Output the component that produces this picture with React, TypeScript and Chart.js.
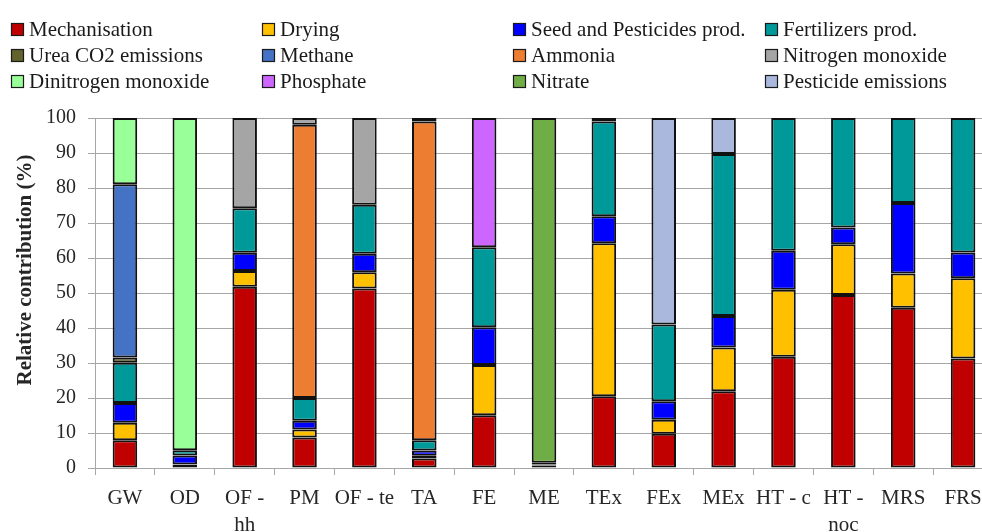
import React, { useEffect, useRef } from "react";
import { Chart, registerables } from "chart.js";

Chart.register(...registerables);

const categories: (string | string[])[] = [
  "GW", "OD", ["OF -", "hh"], "PM", "OF - te", "TA", "FE", "ME", "TEx", "FEx", "MEx", "HT - c", ["HT -", "noc"], "MRS", "FRS",
];

const mechanisation = [7.9, 0.9, 51.8, 8.7, 51.3, 2.7, 15.1, 0.6, 20.5, 9.8, 21.9, 31.8, 49.4, 45.8, 31.3];
const drying = [5.0, 0.1, 4.5, 2.3, 4.6, 0.8, 14.3, 0.1, 43.7, 4.0, 12.5, 19.1, 14.5, 9.8, 22.9];
const seedPesticides = [5.7, 2.6, 5.2, 2.5, 5.3, 1.5, 10.8, 0.3, 7.7, 5.3, 9.0, 11.2, 4.8, 20.1, 7.4];
const fertilizers = [11.5, 1.5, 12.7, 6.5, 14.0, 2.9, 22.9, 0.5, 27.1, 21.9, 46.3, 37.9, 31.3, 24.3, 38.4];
const ureaCO2 = [1.5, null, null, null, null, null, null, null, null, null, null, null, null, null, null];
const methane = [49.5, null, null, null, null, null, null, null, null, null, null, null, null, null, null];
const ammonia = [null, null, null, 78.1, null, 91.1, null, null, null, null, null, null, null, null, null];
const nitrogenMonoxide = [null, null, 25.8, 1.9, 24.8, 1.0, null, null, null, null, null, null, null, null, null];
const dinitrogenMonoxide = [18.9, 94.9, null, null, null, null, null, null, null, null, null, null, null, null, null];
const phosphate = [null, null, null, null, null, null, 36.9, null, null, null, null, null, null, null, null];
const nitrate = [null, null, null, null, null, null, null, 98.5, null, null, null, null, null, null, null];
const pesticideEmissions = [null, null, null, null, null, null, null, null, 1.0, 59.0, 10.3, null, null, null, null];

const yTicks = [0, 10, 20, 30, 40, 50, 60, 70, 80, 90, 100];
const yTitle = "Relative contribution (%)";

const seriesNames = [
  "Mechanisation", "Drying", "Seed and Pesticides prod.", "Fertilizers prod.",
  "Urea CO2 emissions", "Methane", "Ammonia", "Nitrogen monoxide",
  "Dinitrogen monoxide", "Phosphate", "Nitrate", "Pesticide emissions",
];
const seriesValues = [
  mechanisation, drying, seedPesticides, fertilizers,
  ureaCO2, methane, ammonia, nitrogenMonoxide,
  dinitrogenMonoxide, phosphate, nitrate, pesticideEmissions,
];
const seriesColors = [
  "#C00000", "#FFC000", "#0000FF", "#009999",
  "#62622C", "#4472C4", "#ED7D31", "#A5A5A5",
  "#99FF99", "#CC66FF", "#70AD47", "#A9B8DC",
];

const FONT = "'Liberation Serif', 'Times New Roman', serif";

const gridLegend = {
  id: "gridLegend",
  afterDraw(chart: any) {
    const ctx = chart.ctx;
    const colX = [11, 262, 513, 765];
    const rowY = [29, 55, 81];
    chart.data.datasets.forEach((ds: any, i: number) => {
      const x = colX[i % 4];
      const y = rowY[Math.floor(i / 4)];
      ctx.save();
      ctx.fillStyle = ds.backgroundColor;
      ctx.fillRect(x, y - 6, 13, 13);
      ctx.strokeStyle = "#1a1a1a";
      ctx.lineWidth = 1.2;
      ctx.strokeRect(x + 0.5, y - 5.5, 12, 12);
      ctx.fillStyle = "#1a1a1a";
      ctx.font = `21px ${FONT}`;
      ctx.textAlign = "left";
      ctx.textBaseline = "middle";
      ctx.fillText(ds.label, x + 18, y + 1);
      ctx.restore();
    });
    // y-axis title
    ctx.save();
    ctx.translate(26, 270);
    ctx.rotate(-Math.PI / 2);
    ctx.font = `bold 21px ${FONT}`;
    ctx.fillStyle = "#262626";
    ctx.textAlign = "center";
    ctx.textBaseline = "middle";
    ctx.fillText(yTitle, 0, 0);
    ctx.restore();
  },
};

export default function App() {
  const ref = useRef<HTMLCanvasElement | null>(null);

  useEffect(() => {
    if (!ref.current) return;
    const chart = new Chart(ref.current, {
      type: "bar",
      data: {
        labels: categories as any,
        datasets: seriesNames.map((name, i) => ({
          label: name,
          data: seriesValues[i] as any,
          backgroundColor: seriesColors[i],
          borderColor: "#111111",
          borderWidth: 2,
          borderSkipped: false,
          barPercentage: 0.41,
          categoryPercentage: 1.0,
        })),
      },
      options: {
        animation: false,
        responsive: false,
        devicePixelRatio: 1,
        layout: { padding: { top: 118, left: 0, right: 7, bottom: 0 } },
        plugins: { legend: { display: false }, tooltip: { enabled: false } },
        scales: {
          x: {
            stacked: true,
            afterFit: (s: any) => { s.height = 64; },
            grid: { offset: true, drawOnChartArea: false, drawTicks: true, tickLength: 7, color: "#A6A6A6" },
            border: { color: "#A6A6A6" },
            ticks: { font: { family: FONT, size: 21, lineHeight: 1.28 }, color: "#262626", padding: 10, maxRotation: 0, autoSkip: false },
          },
          y: {
            stacked: true,
            min: 0,
            max: 100,
            afterFit: (s: any) => { s.width = 95; },
            afterBuildTicks: (s: any) => { s.ticks = yTicks.map((v) => ({ value: v })); },
            grid: { color: "#A6A6A6", tickLength: 7, drawTicks: true },
            border: { color: "#A6A6A6" },
            ticks: { font: { family: FONT, size: 20 }, color: "#262626", padding: 12 },
          },
        },
      },
      plugins: [gridLegend],
    });
    return () => chart.destroy();
  }, []);

  return (
    <div style={{ position: "fixed", left: 0, top: 0, width: 982, height: 532, overflow: "hidden", background: "#fff" }}>
      <canvas ref={ref} width={1000} height={532} style={{ display: "block", width: 1000, height: 532 }} />
    </div>
  );
}
